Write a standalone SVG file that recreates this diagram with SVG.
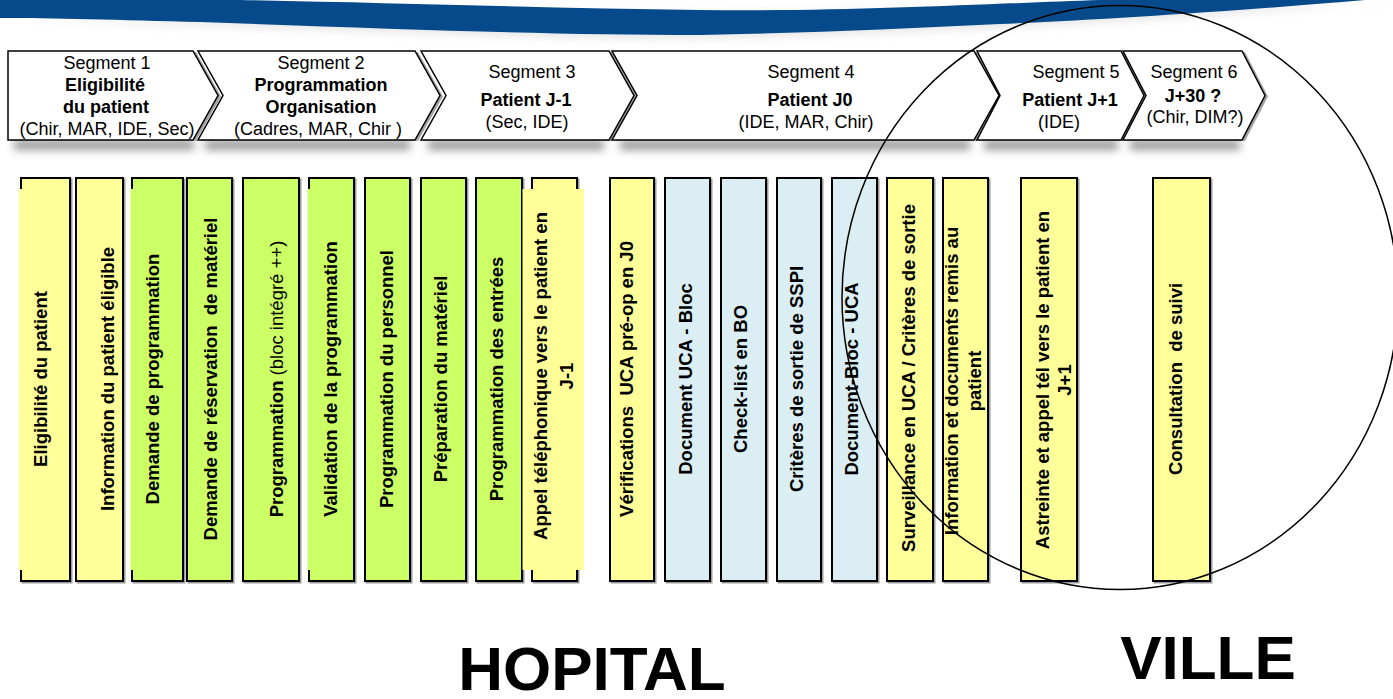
<svg xmlns="http://www.w3.org/2000/svg" width="1393" height="699" viewBox="0 0 1393 699">
<style>
.seg{fill:#fff;stroke:#000;stroke-width:1.5;stroke-linejoin:miter}
.seg3d{fill:#a3a3a3}
.st{font-family:"Liberation Sans",Arial,sans-serif;font-size:18px;text-anchor:middle;fill:#000}
.b{font-weight:bold}
.n{font-weight:normal}
.col{stroke:#000;stroke-width:2}
.csh{fill:none;stroke:#9a9a9a;stroke-width:2}
.y{fill:#FFFF99}
.g{fill:#CCFF66}
.bl{fill:#DAEEF3}
.ct{font-family:"Liberation Sans",Arial,sans-serif;font-size:18.5px;font-weight:bold;text-anchor:middle;fill:#000}
.big{font-family:"Liberation Sans",Arial,sans-serif;font-size:62px;font-weight:bold;text-anchor:middle;fill:#000}
</style>
<defs>
<filter id="blur" x="-10%" y="-100%" width="120%" height="300%"><feGaussianBlur stdDeviation="4"/></filter>
</defs>
<rect width="1393" height="699" fill="#fff"/>
<g id="banner">
<path d="M0,18 C50,18 120,20 200,22 C400,29 550,35 700,35 C800,33 900,29 1000,24 C1100,20 1250,10 1365,0 L1393,0 Z" fill="#d8d8d8" transform="translate(0,4)" opacity="0.6" filter="url(#blur)"/>
<path d="M0,0 H240 C400,3 550,8 700,10 C850,12 1000,3 1100,0 H1365 C1250,10 1100,20 1000,24 C900,29 800,33 700,35 C550,35 400,29 200,22 C120,20 50,18 0,18 Z" fill="#064a8c"/>
</g>
<g id="segment-shadows" filter="url(#blur)" fill="#777" opacity="0.75">
<rect x="14" y="140" width="180" height="10"/>
<rect x="205" y="140" width="205" height="10"/>
<rect x="428" y="140" width="176" height="10"/>
<rect x="620" y="140" width="350" height="10"/>
<rect x="984" y="140" width="134" height="10"/>
<rect x="1130" y="140" width="110" height="10"/>
</g>
<g id="seg1">
<path class="seg3d" transform="translate(3,1)" d="M8,51 H193 L218,95.5 L193,140 H8 Z"/>
<path class="seg" d="M8,51 H193 L218,95.5 L193,140 H8 Z"/>
<text class="st" x="107" y="69">Segment 1</text>
<text class="st b" x="105" y="91">Eligibilité</text>
<text class="st b" x="106" y="113">du patient</text>
<text class="st" x="107" y="135">(Chir, MAR, IDE, Sec)</text>
</g>
<g id="seg2">
<path class="seg3d" transform="translate(3,1)" d="M198,51 H415 L440,95.5 L415,140 H198 L223,95.5 Z"/>
<path class="seg" d="M198,51 H415 L440,95.5 L415,140 H198 L223,95.5 Z"/>
<text class="st" x="321" y="69">Segment 2</text>
<text class="st b" x="321" y="91">Programmation</text>
<text class="st b" x="321" y="113">Organisation</text>
<text class="st" x="318" y="135">(Cadres, MAR, Chir )</text>
</g>
<g id="seg3">
<path class="seg3d" transform="translate(3,1)" d="M421,51 H609 L634,95.5 L609,140 H421 L446,95.5 Z"/>
<path class="seg" d="M421,51 H609 L634,95.5 L609,140 H421 L446,95.5 Z"/>
<text class="st" x="532" y="78">Segment 3</text>
<text class="st b" x="526" y="106">Patient J-1</text>
<text class="st" x="527" y="128">(Sec, IDE)</text>
</g>
<g id="seg4">
<path class="seg3d" transform="translate(3,1)" d="M612,51 H974 L999,95.5 L974,140 H612 L637,95.5 Z"/>
<path class="seg" d="M612,51 H974 L999,95.5 L974,140 H612 L637,95.5 Z"/>
<text class="st" x="811" y="78">Segment 4</text>
<text class="st b" x="810" y="106">Patient J0</text>
<text class="st" x="806" y="128">(IDE, MAR, Chir)</text>
</g>
<g id="seg5">
<path class="seg3d" transform="translate(3,1)" d="M977,51 H1121 L1144,95.5 L1121,140 H977 L1000,95.5 Z"/>
<path class="seg" d="M977,51 H1121 L1144,95.5 L1121,140 H977 L1000,95.5 Z"/>
<text class="st" x="1076" y="78">Segment 5</text>
<text class="st b" x="1070" y="106">Patient J+1</text>
<text class="st" x="1059" y="128">(IDE)</text>
</g>
<g id="seg6">
<path class="seg3d" transform="translate(3,1)" d="M1123,51 H1242 L1265,95.5 L1242,140 H1123 L1146,95.5 Z"/>
<path class="seg" d="M1123,51 H1242 L1265,95.5 L1242,140 H1123 L1146,95.5 Z"/>
<text class="st" x="1194" y="78">Segment 6</text>
<text class="st b" x="1193" y="102">J+30 ?</text>
<text class="st" x="1195" y="123">(Chir, DIM?)</text>
</g>

<g id="col1">
<rect class="csh" x="22.5" y="179.5" width="49" height="403"/>
<rect class="col y" x="21" y="178" width="49" height="403"/>
<rect class="y" x="19" y="189" width="49.5" height="381"/>
<text class="ct" transform="translate(46.5,379) rotate(-90)">Eligibilité du patient</text>
</g>
<g id="col2">
<rect class="csh" x="77.5" y="179.5" width="47" height="403"/>
<rect class="col y" x="76" y="178" width="47" height="403"/>
<text class="ct" transform="translate(113.5,379) rotate(-90)">Information du patient éligible</text>
</g>
<g id="col3">
<rect class="csh" x="133.5" y="179.5" width="51" height="403"/>
<rect class="col g" x="132" y="178" width="51" height="403"/>
<rect class="g" x="130.5" y="189" width="51.5" height="381"/>
<text class="ct" transform="translate(159,379) rotate(-90)">Demande de programmation</text>
</g>
<g id="col4">
<rect class="csh" x="188.5" y="179.5" width="45" height="403"/>
<rect class="col g" x="187" y="178" width="45" height="403"/>
<text class="ct" transform="translate(217,379) rotate(-90)">Demande de réservation&#160; de matériel</text>
</g>
<g id="col5">
<rect class="csh" x="244.5" y="179.5" width="56" height="403"/>
<rect class="col g" x="243" y="178" width="56" height="403"/>
<text class="ct" transform="translate(282.5,379) rotate(-90)">Programmation<tspan class="n"> (bloc intégré ++)</tspan></text>
</g>
<g id="col6">
<rect class="csh" x="310.5" y="179.5" width="45" height="403"/>
<rect class="col g" x="309" y="178" width="45" height="403"/>
<rect class="g" x="307.5" y="189" width="45.5" height="381"/>
<text class="ct" transform="translate(337,379) rotate(-90)">Validation de la programmation</text>
</g>
<g id="col7">
<rect class="csh" x="366.5" y="179.5" width="45" height="403"/>
<rect class="col g" x="365" y="178" width="45" height="403"/>
<text class="ct" transform="translate(392.5,379) rotate(-90)">Programmation du personnel</text>
</g>
<g id="col8">
<rect class="csh" x="422.5" y="179.5" width="45" height="403"/>
<rect class="col g" x="421" y="178" width="45" height="403"/>
<text class="ct" transform="translate(446.5,379) rotate(-90)">Préparation du matériel</text>
</g>
<g id="col9">
<rect class="csh" x="477.5" y="179.5" width="46" height="403"/>
<rect class="col g" x="476" y="178" width="46" height="403"/>
<text class="ct" transform="translate(503,379) rotate(-90)">Programmation des entrées</text>
</g>
<g id="col10">
<rect class="csh" x="533.5" y="179.5" width="45" height="403"/>
<rect class="col y" x="532" y="178" width="45" height="403"/>
<rect class="y" x="522.5" y="189" width="61.5" height="381"/>
<text class="ct" transform="translate(547,376) rotate(-90)">Appel téléphonique vers le patient en</text>
<text class="ct" transform="translate(573,376) rotate(-90)">J-1</text>
</g>
<g id="col11">
<rect class="csh" x="611.5" y="179.5" width="44" height="403"/>
<rect class="col y" x="610" y="178" width="44" height="403"/>
<text class="ct" transform="translate(633,379) rotate(-90)">Vérifications&#160; UCA pré-op en J0</text>
</g>
<g id="col12">
<rect class="csh" x="666.5" y="179.5" width="45" height="403"/>
<rect class="col bl" x="665" y="178" width="45" height="403"/>
<text class="ct" transform="translate(691.5,379) rotate(-90)">Document UCA - Bloc</text>
</g>
<g id="col13">
<rect class="csh" x="722.5" y="179.5" width="45" height="403"/>
<rect class="col bl" x="721" y="178" width="45" height="403"/>
<text class="ct" transform="translate(746.5,379) rotate(-90)">Check-list en BO</text>
</g>
<g id="col14">
<rect class="csh" x="778.5" y="179.5" width="44" height="403"/>
<rect class="col bl" x="777" y="178" width="44" height="403"/>
<text class="ct" transform="translate(802.5,379) rotate(-90)">Critères de sortie de SSPI</text>
</g>
<g id="col15">
<rect class="csh" x="833.5" y="179.5" width="45" height="403"/>
<rect class="col bl" x="832" y="178" width="45" height="403"/>
<text class="ct" transform="translate(858,379) rotate(-90)">Document-Bloc - UCA</text>
</g>
<g id="col16">
<rect class="csh" x="888.5" y="179.5" width="46" height="403"/>
<rect class="col y" x="887" y="178" width="46" height="403"/>
<text class="ct" transform="translate(915,378) rotate(-90)">Surveillance en UCA / Critères de sortie</text>
</g>
<g id="col17">
<rect class="csh" x="944.5" y="179.5" width="45" height="403"/>
<rect class="col y" x="943" y="178" width="45" height="403"/>
<text class="ct" transform="translate(958,381) rotate(-90)">Information et documents remis au</text>
<text class="ct" transform="translate(981,381) rotate(-90)">patient</text>
</g>
<g id="col18">
<rect class="csh" x="1022.5" y="179.5" width="56" height="403"/>
<rect class="col y" x="1021" y="178" width="56" height="403"/>
<text class="ct" transform="translate(1049,380) rotate(-90)">Astreinte et appel tél vers le patient en</text>
<text class="ct" transform="translate(1071,380) rotate(-90)">J+1</text>
</g>
<g id="col19">
<rect class="csh" x="1154.5" y="179.5" width="57" height="403"/>
<rect class="col y" x="1153" y="178" width="57" height="403"/>
<text class="ct" transform="translate(1182,379) rotate(-90)">Consultation&#160; de suivi</text>
</g>

<g id="connectors">
<ellipse id="ville-zone" cx="1120" cy="297.5" rx="278" ry="292" fill="none" stroke="#000" stroke-width="1.5"/>
</g>
<g id="labels">
<text class="big" x="592" y="690">HOPITAL</text>
<text class="big" x="1208" y="679">VILLE</text>
</g>
</svg>
